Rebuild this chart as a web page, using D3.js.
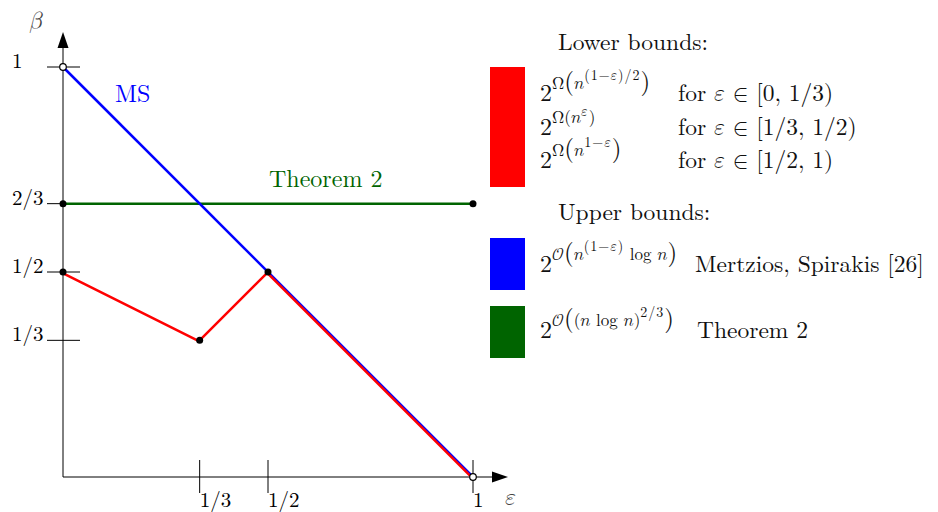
<!DOCTYPE html>
<html>
<head>
    <title>Bounds on beta</title>
    <script src="https://d3js.org/d3.v7.min.js"></script>
    <style>
        body { margin: 0; background: #fff; }
    </style>
</head>
<body>
    <svg width="938" height="512"></svg>
    <script>

        // data
        const msX = [0, 1], msY = [1, 0];                       // Mertzios, Spirakis
        const thmX = [0, 1], thmY = [2/3, 2/3];                 // Theorem 2
        const lowX = [0, 1/3, 1/2, 1], lowY = [1/2, 1/3, 1/2, 0]; // lower bound
        const dotsX = [0, 1, 0, 1/3, 1/2], dotsY = [2/3, 2/3, 1/2, 1/3, 1/2];
        const openX = [0, 1], openY = [1, 0];
        const xTicks = [1/3, 1/2, 1], xTickLabels = ["1/3", "1/2", "1"];
        const yTicks = [1/3, 1/2, 2/3, 1], yTickLabels = ["1/3", "1/2", "2/3", "1"];

        const RED = "#ff0000", BLUE = "#0000ff", GREEN = "#006400";
        const FONT = "Latin Modern Roman";
        const MATH = "Latin Modern Math";
        const EPS = "𝜀", NN = "𝑛";

        const svg = d3.select("svg");

        const x = d3.scaleLinear().domain([0, 1]).range([63, 473]);
        const y = d3.scaleLinear().domain([0, 1]).range([477, 67]);

        const line = d3.line()
            .x(d => x(d[0]))
            .y(d => y(d[1]));

        const zip = (a, b) => a.map((v, i) => [v, b[i]]);

        function label(px, py, str, size, color, font) {
            return svg.append("text").attr("x", px).attr("y", py)
                .attr("font-family", font || FONT).style("font-size", size + "px")
                .attr("fill", color || "#111").text(str);
        }

        // axes
        svg.append("line")
            .attr("x1", x(0)).attr("x2", x(0))
            .attr("y1", y(0)).attr("y2", 46)
            .attr("stroke", "#000").attr("stroke-width", 1);
        svg.append("path")
            .attr("d", "M" + x(0) + ",32 L" + (x(0) - 5.5) + ",48 L" + (x(0) + 5.5) + ",48 Z")
            .attr("fill", "#000");
        svg.append("line")
            .attr("x1", x(0)).attr("x2", 494)
            .attr("y1", y(0)).attr("y2", y(0))
            .attr("stroke", "#000").attr("stroke-width", 1);
        svg.append("path")
            .attr("d", "M508," + y(0) + " L492," + (y(0) - 5.5) + " L492," + (y(0) + 5.5) + " Z")
            .attr("fill", "#000");

        // ticks
        svg.selectAll(".ytick").data(yTicks).enter().append("line")
            .attr("x1", x(0) - 16).attr("x2", x(0) + 17)
            .attr("y1", d => y(d)).attr("y2", d => y(d))
            .attr("stroke", "#000").attr("stroke-width", 1);
        svg.selectAll(".ylab").data(yTicks).enter().append("text")
            .attr("x", 12)
            .attr("y", d => y(d) + 1)
            .attr("font-family", FONT)
            .style("font-size", "21px")
            .text((d, i) => yTickLabels[i]);

        svg.selectAll(".xtick").data(xTicks).enter().append("line")
            .attr("x1", d => x(d)).attr("x2", d => x(d))
            .attr("y1", y(0) - 17).attr("y2", y(0) + 16)
            .attr("stroke", "#000").attr("stroke-width", 1);
        svg.selectAll(".xlab").data(xTicks).enter().append("text")
            .attr("x", d => x(d))
            .attr("y", 507)
            .attr("font-family", FONT)
            .style("font-size", "21px")
            .text((d, i) => xTickLabels[i]);

        label(29, 29, "𝛽", 24, "#444", MATH);
        label(505, 505, EPS, 24, "#444", MATH);

        // lines
        svg.append("path").datum(zip(thmX, thmY))
            .attr("fill", "none").attr("stroke", GREEN).attr("stroke-width", 2.5)
            .attr("d", line);
        svg.append("path").datum(zip(msX, msY))
            .attr("fill", "none").attr("stroke", BLUE).attr("stroke-width", 2.5)
            .attr("d", line);
        svg.append("path").datum(zip(lowX, lowY))
            .attr("fill", "none").attr("stroke", RED).attr("stroke-width", 2.5)
            .attr("stroke-linejoin", "round")
            .attr("transform", "translate(-0.8,0.8)")
            .attr("d", line);

        // points
        svg.selectAll(".dot").data(zip(dotsX, dotsY)).enter().append("circle")
            .attr("cx", d => x(d[0])).attr("cy", d => y(d[1])).attr("r", 3.5)
            .attr("fill", "#000");
        svg.selectAll(".open").data(zip(openX, openY)).enter().append("circle")
            .attr("cx", d => x(d[0])).attr("cy", d => y(d[1])).attr("r", 3.3)
            .attr("fill", "#fff").attr("stroke", "#000").attr("stroke-width", 1.2);

        // line labels
        label(115, 102, "MS", 24, BLUE);
        label(269, 187, "Theorem 2", 24, GREEN);

        // legend ------------------------------------------------------------
        // rich text: each part is [text, font size, vertical offset, math font]
        function rich(px, py, parts) {
            const t = svg.append("text").attr("x", px).attr("y", py)
                .attr("font-family", FONT).attr("fill", "#111");
            let prev = 0;
            parts.forEach(p => {
                const s = t.append("tspan")
                    .attr("dy", p[2] - prev)
                    .style("font-size", p[1] + "px")
                    .text(p[0]);
                if (p[3]) s.attr("font-family", MATH);
                if (p[1] <= 14) s.style("letter-spacing", "1px");
                prev = p[2];
            });
            return t;
        }

        const B = 24, S1 = 17, S2 = 14, BP = 25, T = 23.5;
        const o1 = -12, o2 = -21, op = -11;

        label(558, 50, "Lower bounds:", T);
        svg.append("rect").attr("x", 490).attr("y", 67).attr("width", 35).attr("height", 120)
            .attr("fill", RED);

        rich(540, 101, [["2", B, 0], ["Ω", S1, o1], ["(", BP, op], [NN, S1, o1, true],
            ["(1−", S2, o2], [EPS, S2, o2, true], [")/2", S2, o2], [")", BP, op]]);
        rich(540, 135, [["2", B, 0], ["Ω(", S1, o1], [NN, S1, o1, true],
            [EPS, S2, o2 + 2, true], [")", S1, o1]]);
        rich(540, 168, [["2", B, 0], ["Ω", S1, o1], ["(", BP, op], [NN, S1, o1, true],
            ["1−", S2, o2], [EPS, S2, o2, true], [")", BP, op]]);

        const forRows = [["[0, 1/3)", 101], ["[1/3, 1/2)", 135], ["[1/2, 1)", 168]];
        forRows.forEach(r => {
            rich(678, r[1], [["for ", T, 0], [EPS, T, 0, true], [" ∈ ", T, 0, true], [r[0], T, 0]]);
        });

        label(558, 220, "Upper bounds:", T);
        svg.append("rect").attr("x", 490).attr("y", 238).attr("width", 35).attr("height", 52)
            .attr("fill", BLUE);
        svg.append("rect").attr("x", 490).attr("y", 306).attr("width", 35).attr("height", 52)
            .attr("fill", GREEN);

        rich(540, 272, [["2", B, 0], ["𝒪", S1, o1, true], ["(", BP, op], [NN, S1, o1, true],
            ["(1−", S2, o2], [EPS, S2, o2, true], [")", S2, o2], [" log ", S1, o1],
            [NN, S1, o1, true], [")", BP, op]]);
        label(695, 272, "Mertzios, Spirakis [26]", T);

        rich(540, 338, [["2", B, 0], ["𝒪", S1, o1, true], ["(", BP, op], ["(", S1, o1],
            [NN, S1, o1, true], [" log ", S1, o1], [NN, S1, o1, true], [")", S1, o1],
            ["2/3", S2, o2], [")", BP, op]]);
        label(697, 338, "Theorem 2", T);

    </script>
</body>
</html>
